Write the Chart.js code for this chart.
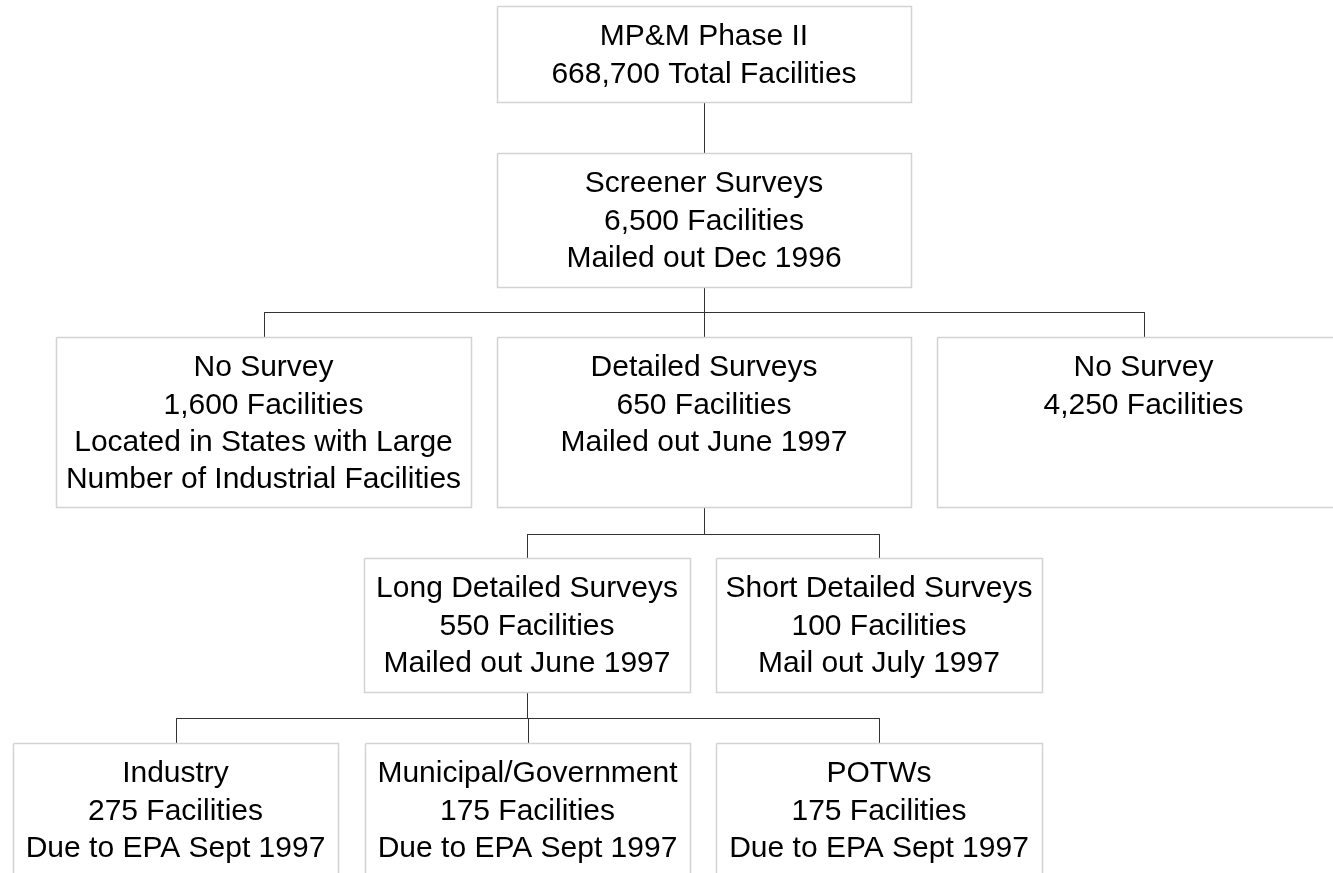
<!DOCTYPE html>
<html>
<head>
<meta charset="utf-8">
<script src="https://cdn.jsdelivr.net/npm/chart.js@4"></script>
<style>
  html, body { margin: 0; padding: 0; background: #fff; }
  canvas { display: block; }
</style>
</head>
<body>
<canvas id="grafico" width="1333" height="873"></canvas>
<script>
// Texto de cada caixa do fluxograma
const nodeText = [
  ['MP&M Phase II', '668,700 Total Facilities'],
  ['Screener Surveys', '6,500 Facilities', 'Mailed out Dec 1996'],
  ['No Survey', '1,600 Facilities', 'Located in States with Large', 'Number of Industrial Facilities'],
  ['Detailed Surveys', '650 Facilities', 'Mailed out June 1997'],
  ['No Survey', '4,250 Facilities'],
  ['Long Detailed Surveys', '550 Facilities', 'Mailed out June 1997'],
  ['Short Detailed Surveys', '100 Facilities', 'Mail out July 1997'],
  ['Industry', '275 Facilities', 'Due to EPA Sept 1997'],
  ['Municipal/Government', '175 Facilities', 'Due to EPA Sept 1997'],
  ['POTWs', '175 Facilities', 'Due to EPA Sept 1997']
];

// Ligações pai -> filhos
const edgeParent = [0, 1, 3, 5];
const edgeChildren = [[1], [2, 3, 4], [5, 6], [7, 8, 9]];

// Layout do diagrama (unidades do eixo)
const nodeLeft   = [497, 497, 56, 497, 937, 364, 716, 13, 365, 716];
const nodeRight  = [911, 911, 471, 911, 1350, 690, 1042, 338, 690, 1042];
const nodeTop    = [6, 153, 337, 337, 337, 558, 558, 743, 743, 743];
const nodeBottom = [102, 287, 507, 507, 507, 692, 692, 900, 900, 900];
const elbowY     = [128, 312, 534, 718];

const cx = i => Math.round((nodeLeft[i] + nodeRight[i]) / 2) + 0.5;

const datasets = [];

// caixas
nodeText.forEach((_, i) => {
  const l = nodeLeft[i] + 0.5, r = nodeRight[i] + 0.5, t = nodeTop[i] + 0.5, b = nodeBottom[i] + 0.5;
  datasets.push({
    data: [{x: l, y: t}, {x: r, y: t}, {x: r, y: b}, {x: l, y: b}, {x: l, y: t}],
    showLine: true,
    borderColor: '#d3d3d3',
    borderWidth: 1.5,
    pointRadius: 0,
    tension: 0
  });
});

// conectores
function linha(pts) {
  datasets.push({
    data: pts,
    showLine: true,
    borderColor: '#333',
    borderWidth: 1,
    pointRadius: 0,
    tension: 0
  });
}
edgeParent.forEach((p, k) => {
  const kids = edgeChildren[k];
  const ey = elbowY[k] + 0.5;
  linha([{x: cx(p), y: nodeBottom[p] + 1}, {x: cx(p), y: kids.length > 1 ? ey : nodeTop[kids[0]]}]);
  if (kids.length > 1) {
    linha([{x: cx(kids[0]), y: ey}, {x: cx(kids[kids.length - 1]), y: ey}]);
    kids.forEach(c => linha([{x: cx(c), y: ey}, {x: cx(c), y: nodeTop[c]}]));
  }
});

// plugin para escrever os textos das caixas
const textoCaixas = {
  id: 'textoCaixas',
  afterDatasetsDraw(chart) {
    const ctx = chart.ctx;
    const sx = chart.scales.x, sy = chart.scales.y;
    ctx.save();
    ctx.fillStyle = '#000';
    ctx.font = '30px "Liberation Sans", Arial, sans-serif';
    ctx.textAlign = 'center';
    ctx.textBaseline = 'middle';
    nodeText.forEach((lines, i) => {
      const x = sx.getPixelForValue((nodeLeft[i] + Math.min(nodeRight[i], 1350)) / 2);
      lines.forEach((txt, j) => {
        ctx.fillText(txt, x, sy.getPixelForValue(nodeTop[i] + 31 + j * 37.3));
      });
    });
    ctx.restore();
  }
};

new Chart(document.getElementById('grafico'), {
  type: 'scatter',
  data: { datasets },
  options: {
    responsive: false,
    animation: false,
    events: [],
    layout: { padding: 0 },
    scales: {
      x: { type: 'linear', min: 0, max: 1333, display: false },
      y: { type: 'linear', min: 0, max: 873, reverse: true, display: false }
    },
    plugins: {
      legend: { display: false },
      tooltip: { enabled: false }
    }
  },
  plugins: [textoCaixas]
});
</script>
</body>
</html>
